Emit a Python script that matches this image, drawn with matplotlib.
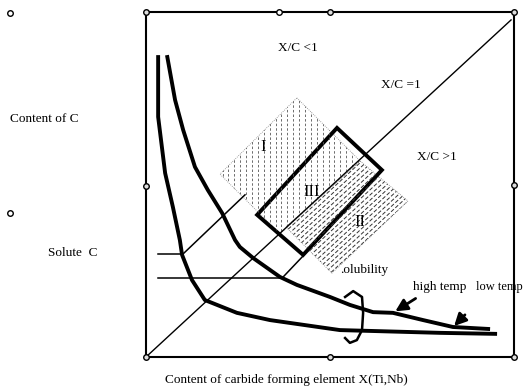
import numpy as np
import matplotlib

matplotlib.use("Agg")
import matplotlib.pyplot as plt
from matplotlib.patches import Polygon

# Schematic coordinates, 0..100 on both axes of the frame.
# Solubility curves (C content vs. X content)
low_temp_x = [3.3, 3.3, 5.2, 7.3, 9.2, 9.8, 12.5, 16.0, 17.9, 24.7, 33.7, 52.7, 79.9, 95.4]
low_temp_y = [87.5, 69.6, 53.3, 43.5, 33.9, 29.6, 22.3, 16.5, 15.7, 12.8, 10.7, 7.8, 7.0, 6.7]
high_temp_x = [5.7, 7.9, 10.1, 13.3, 16.8, 20.7, 24.2, 25.5, 29.1, 36.4, 41.0, 50.0, 55.4, 61.7,
               67.1, 75.3, 83.4, 93.5]
high_temp_y = [87.5, 74.5, 65.8, 55.1, 48.4, 41.7, 33.9, 31.9, 28.7, 23.2, 20.9, 17.4, 15.1, 13.0,
               12.8, 10.7, 8.7, 8.1]

# stoichiometric line X/C = 1
stoich_x = [0.0, 99.2]
stoich_y = [0.0, 97.7]

# solute-C levels and the guide lines parallel to X/C = 1
solute_levels = [29.9, 22.9]
solute_x0 = 3.3
solute_x1 = [9.8, 36.4]
guide_lines = [([9.8, 26.9], [29.6, 47.0]), ([37.0, 42.7], [22.9, 29.3])]

# regions I, II and the optimum window III
region_I = [(41.0, 75.1), (58.2, 56.8), (36.4, 35.7), (20.1, 53.0)]
region_II = [(58.2, 56.8), (71.2, 45.2), (50.5, 24.3), (38.0, 37.7)]
region_III = [(51.9, 66.4), (64.1, 54.2), (42.7, 29.6), (30.2, 41.2)]

# rotation mark and temperature arrows
turn_x = [54.1, 56.3, 58.7, 59.0, 58.7, 57.3, 55.4, 54.1]
turn_y = [17.4, 19.1, 17.4, 12.8, 7.8, 4.9, 4.1, 5.5]
arrow_high = ((73.9, 17.4), (67.1, 12.8))
arrow_low = ((87.2, 12.8), (83.2, 8.4))

# frame handles
handle_x = [0, 50, 100, 0, 100, 0, 50, 100]
handle_y = [100, 100, 100, 49.6, 50, 0, 0, 0]
open_handle = [(36.1, 100), (-37, 99.7), (-37, 41.7)]

SERIF = ["Liberation Serif", "DejaVu Serif"]

fig = plt.figure(figsize=(5.26, 3.89), dpi=100)
ax = fig.add_axes([146 / 526, 32 / 389, 368 / 526, 345 / 389])
ax.set_xlim(0, 100)
ax.set_ylim(0, 100)
ax.set_xticks([])
ax.set_yticks([])
for sp in ax.spines.values():
    sp.set_linewidth(1.5)

# hatched regions, clipped to their outlines
poly_I = Polygon(region_I, closed=True, fill=False, ec="#888888", lw=0.6, ls=(0, (1, 1.5)))
ax.add_patch(poly_I)
for xv in np.arange(20.8, 58.5, 1.6):
    ln, = ax.plot([xv, xv], [30, 80], color="#555555", lw=0.6, ls=(0, (3, 2.5)))
    ln.set_clip_path(poly_I)

poly_II = Polygon(region_II, closed=True, fill=False, ec="#888888", lw=0.6, ls=(0, (1, 1.5)))
ax.add_patch(poly_II)
slope = stoich_y[1] / stoich_x[1]
for c in np.arange(-40, 5, 1.5):
    xs = np.array([20, 80])
    ln, = ax.plot(xs, slope * xs + c, color="#333333", lw=0.7, ls=(0, (4, 2)))
    ln.set_clip_path(poly_II)

ax.plot(stoich_x, stoich_y, color="black", lw=1.0)
for lvl, x1 in zip(solute_levels, solute_x1):
    ax.plot([solute_x0, x1], [lvl, lvl], color="black", lw=1.1)
for gx, gy in guide_lines:
    ax.plot(gx, gy, color="black", lw=1.1)

ax.add_patch(Polygon(region_III, closed=True, fill=False, ec="black", lw=2.8, joinstyle="miter"))

for cx, cy in ((low_temp_x, low_temp_y), (high_temp_x, high_temp_y)):
    ax.plot(cx, cy, color="black", lw=2.8, solid_capstyle="butt", solid_joinstyle="round")
ax.plot(turn_x, turn_y, color="black", lw=1.8, solid_joinstyle="round")

for (x0, y0), (x1, y1) in (arrow_high, arrow_low):
    ax.annotate("", xy=(x1, y1), xytext=(x0, y0),
                arrowprops=dict(arrowstyle="-|>", lw=2.0, color="black", mutation_scale=18))

ax.plot(handle_x, handle_y, "o", ms=4, mfc="#dddddd", mec="black", mew=1.0, clip_on=False, zorder=5)
ax.plot(*zip(*open_handle), "o", ms=4, mfc="white", mec="black", mew=1.0, clip_on=False, zorder=5)

fs = 9.5
ax.text(41.3, 89.6, "X/C <1", family=SERIF, fontsize=fs, ha="center", va="center")
ax.text(69.3, 78.8, "X/C =1", family=SERIF, fontsize=fs, ha="center", va="center")
ax.text(79.1, 58.0, "X/C >1", family=SERIF, fontsize=fs, ha="center", va="center")
ax.text(31.8, 60.9, "I", family=SERIF, fontsize=12, ha="center", va="center")
ax.text(45.1, 47.8, "III", family=SERIF, fontsize=12, ha="center", va="center")
ax.text(58.2, 39.1, "II", family=SERIF, fontsize=12, ha="center", va="center")
ax.text(52.7, 25.2, ".olubility", family=SERIF, fontsize=fs, ha="left", va="center")
ax.text(72.6, 20.3, "high temp", family=SERIF, fontsize=fs, ha="left", va="center")
ax.text(89.6, 20.3, "low temp", family=SERIF, fontsize=9, ha="left", va="center", clip_on=False)
ax.text(-37, 69.0, "Content of C", family=SERIF, fontsize=fs, ha="left", va="center")
ax.text(-26.6, 30.1, "Solute  C", family=SERIF, fontsize=fs, ha="left", va="center")
ax.text(5.2, -6.7, "Content of carbide forming element X(Ti,Nb)", family=SERIF, fontsize=fs,
        ha="left", va="center")

fig.savefig("out.png", dpi=100)
